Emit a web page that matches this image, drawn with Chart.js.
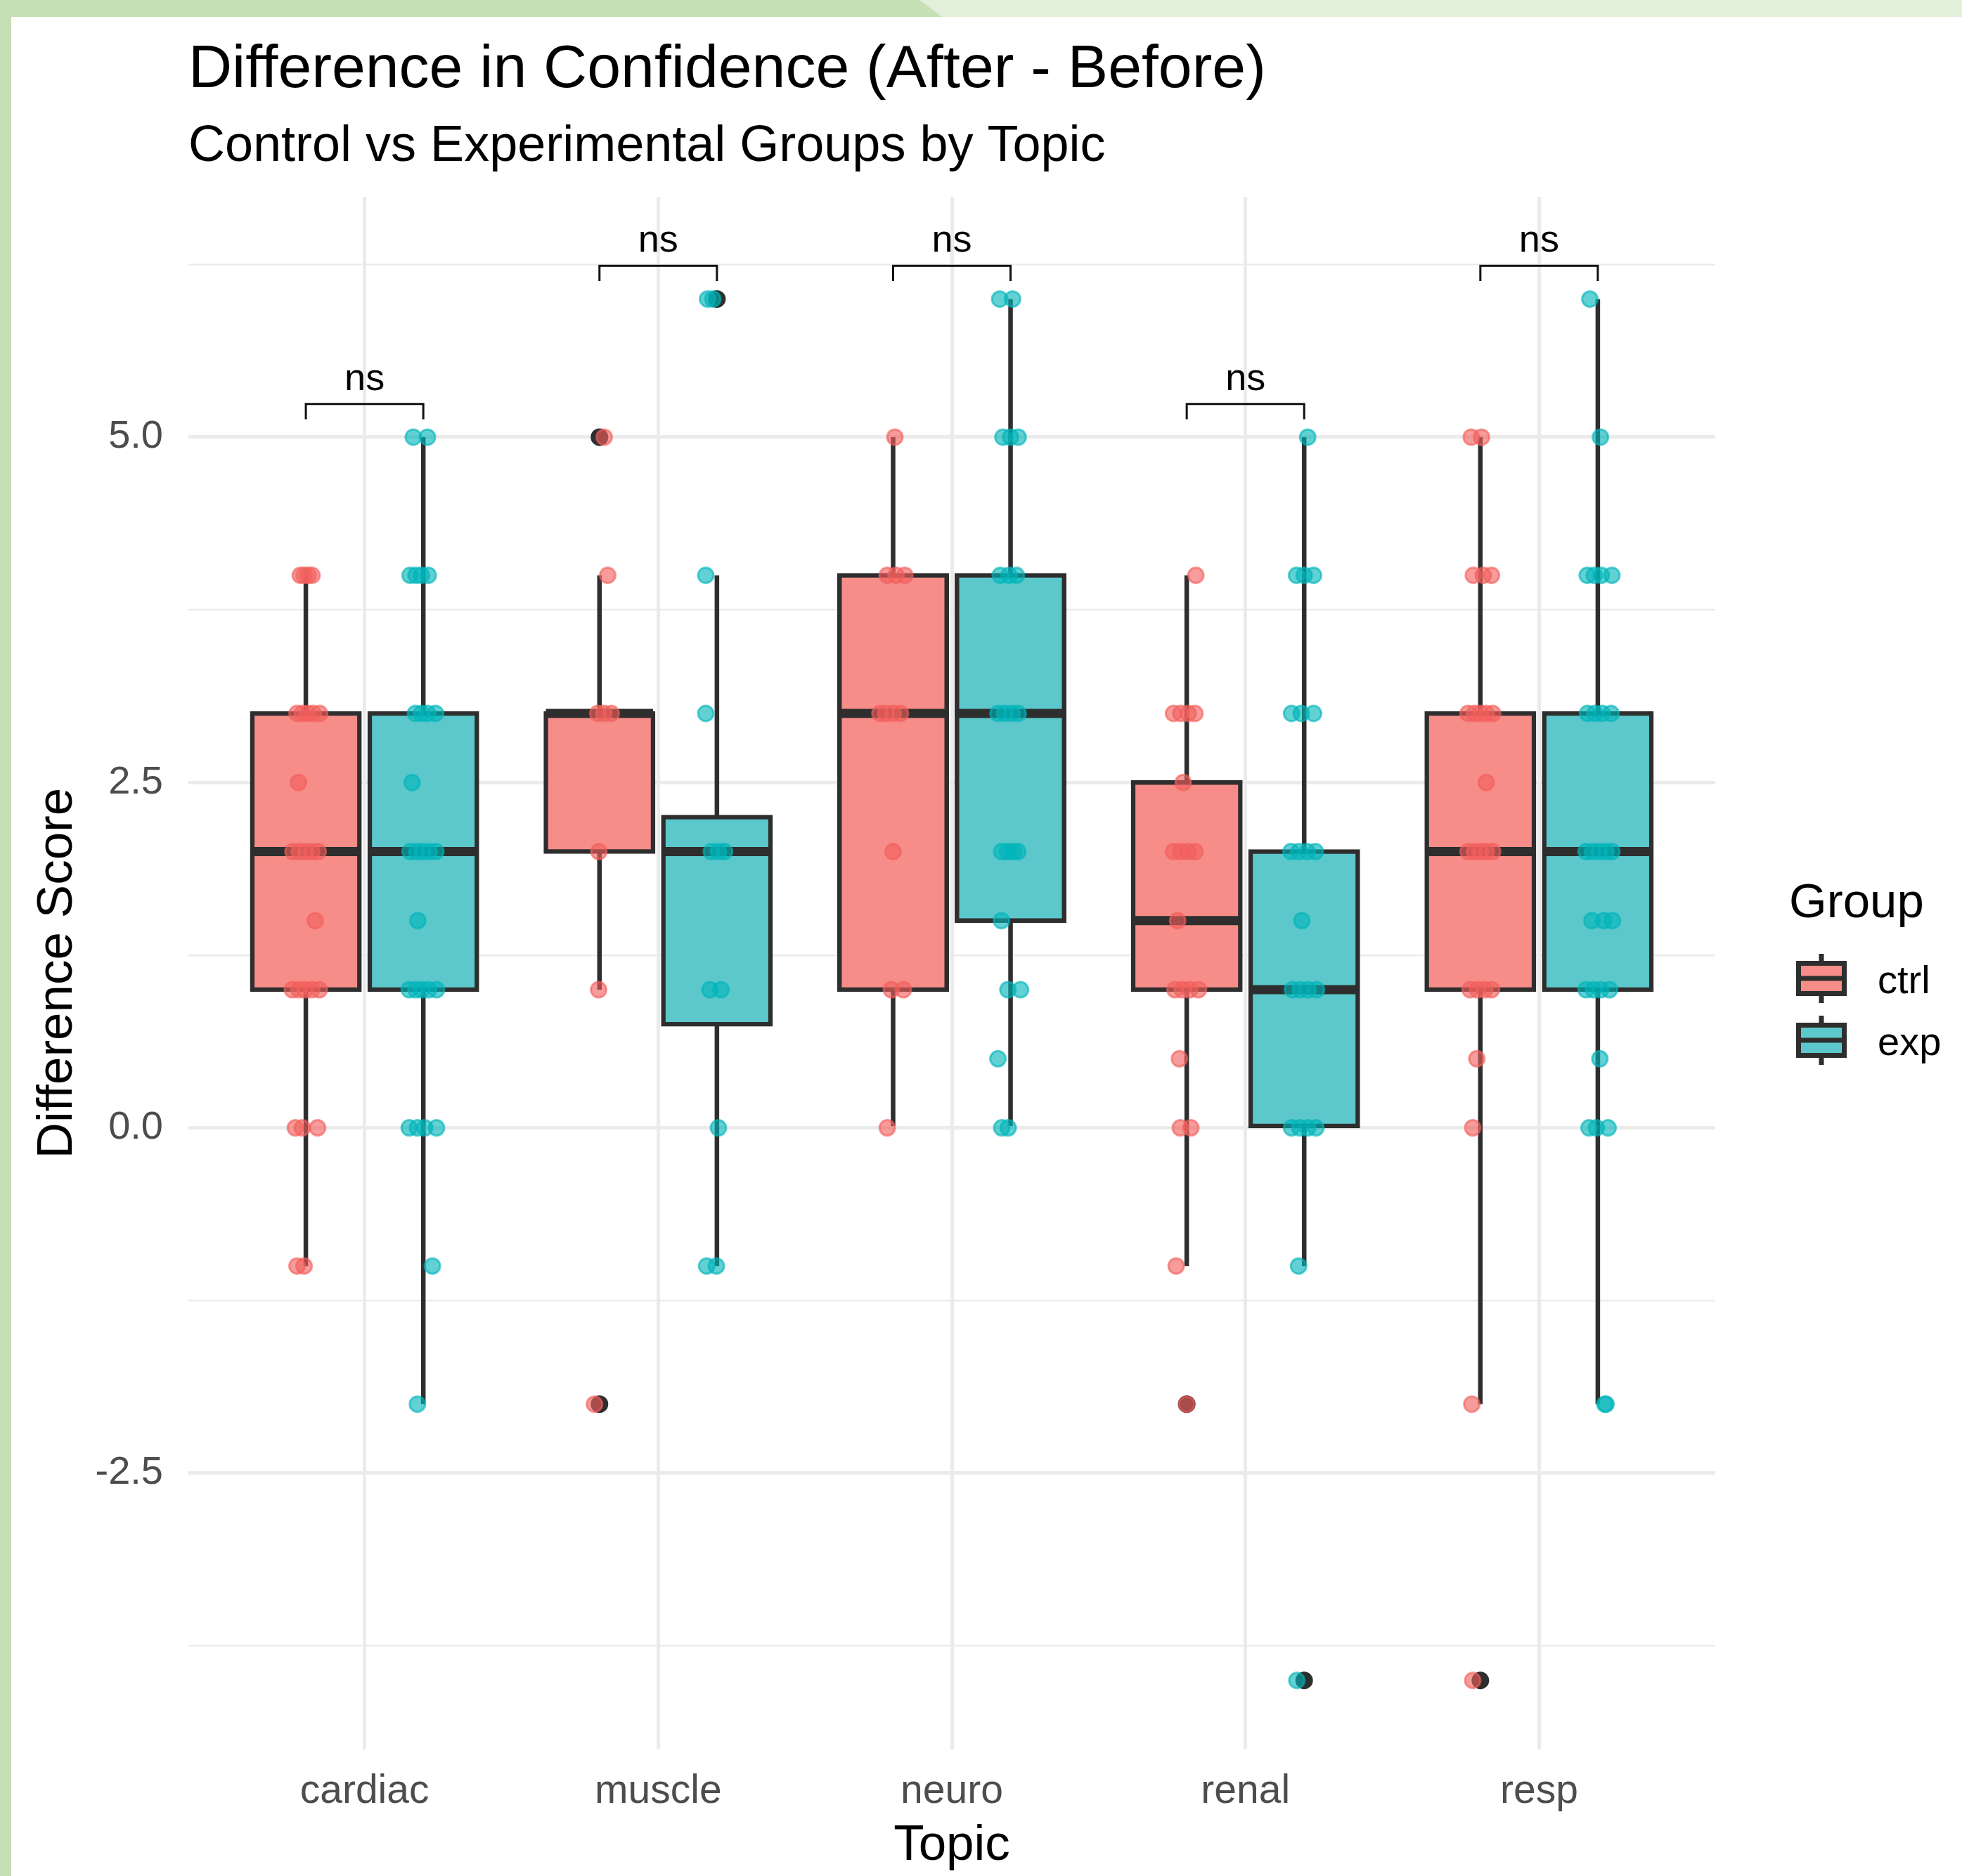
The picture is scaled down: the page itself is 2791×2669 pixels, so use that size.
<!DOCTYPE html>
<html>
<head>
<meta charset="utf-8">
<title>Difference in Confidence</title>
<script src="https://cdn.jsdelivr.net/npm/chart.js@4.4.1/dist/chart.umd.min.js"></script>
<style>
  html, body { margin: 0; padding: 0; background: #fff; }
  #wrap { position: relative; width: 2791px; height: 2669px; overflow: hidden; background: #fff; }
  #chart { position: absolute; left: 0; top: 0; }
  .band { position: absolute; }
  #topLight { left: 0; top: 0; width: 2791px; height: 24px; background: #e2efda; }
  #topDark { left: 0; top: 0; width: 1340px; height: 24px; background: #c5e0b4; clip-path: polygon(0 0, 1308px 0, 1340px 24px, 0 24px); }
  #leftBand { left: 0; top: 0; width: 16px; height: 2669px; background: #c5e0b4; }
</style>
</head>
<body>
<div id="wrap">
  <canvas id="chart" width="2791" height="2669"></canvas>
  <div class="band" id="topLight"></div>
  <div class="band" id="topDark"></div>
  <div class="band" id="leftBand"></div>
</div>
<script>
var FONT = '"Liberation Sans", Arial, Helvetica, sans-serif';

// categories and axis ticks
var topics = ['cardiac', 'muscle', 'neuro', 'renal', 'resp'];
var groupNames = ['ctrl', 'exp'];
var yTickValues = [-3.75, -2.5, -1.25, 0, 1.25, 2.5, 3.75, 5, 6.25];
var sigLabels = ['ns', 'ns', 'ns', 'ns', 'ns'];

// boxplot stats, one value per topic
var ctrlLow    = [-1, 1, 0, -1, -2];
var ctrlQ1     = [1, 2, 1, 1, 1];
var ctrlMedian = [2, 3, 3, 1.5, 2];
var ctrlQ3     = [3, 3, 4, 2.5, 3];
var ctrlHigh   = [4, 4, 5, 4, 5];
var ctrlOutliers = [[1, 5], [1, -2], [3, -2], [4, -4]]; // [topic index, value]

var expLow    = [-2, -1, 0, -1, -2];
var expQ1     = [1, 0.75, 1.5, 0, 1];
var expMedian = [2, 2, 3, 1, 2];
var expQ3     = [3, 2.25, 4, 2, 3];
var expHigh   = [5, 4, 6, 5, 6];
var expOutliers = [[1, 6], [3, -4]];

// jittered points: [score, horizontal jitter in category units]
var cardiacCtrl = [[4,-0.019],[4,-0.006],[4,0.008],[4,0.021],
  [3,-0.03],[3,-0.012],[3,0.006],[3,0.025],[3,0.047],[2.5,-0.025],
  [2,-0.044],[2,-0.022],[2,0],[2,0.02],[2,0.042],[1.5,0.032],
  [1,-0.046],[1,-0.024],[1,-0.003],[1,0.02],[1,0.046],
  [0,-0.036],[0,-0.012],[0,0.04],[-1,-0.03],[-1,-0.006]];
var cardiacExp = [[5,-0.034],[5,0.014],
  [4,-0.045],[4,-0.025],[4,-0.006],[4,0.017],
  [3,-0.027],[3,-0.006],[3,0.015],[3,0.042],[2.5,-0.038],
  [2,-0.045],[2,-0.022],[2,-0.002],[2,0.02],[2,0.043],[1.5,-0.019],
  [1,-0.048],[1,-0.025],[1,-0.005],[1,0.018],[1,0.045],
  [0,-0.048],[0,-0.02],[0,0.005],[0,0.045],[-1,0.031],[-2,-0.02]];
var muscleCtrl = [[5,0.016],[4,0.028],[3,-0.006],[3,0.015],[3,0.04],
  [2,-0.002],[1,-0.003],[-2,-0.017]];
var muscleExp = [[6,-0.032],[6,-0.014],[4,-0.038],[3,-0.038],
  [2,-0.019],[2,0.005],[2,0.026],[1,-0.024],[1,0.014],[0,0.005],
  [-1,-0.035],[-1,-0.002]];
var neuroCtrl = [[5,0.006],[4,-0.02],[4,0.01],[4,0.04],
  [3,-0.045],[3,-0.025],[3,0],[3,0.025],[2,0],[1,-0.006],[1,0.035],[0,-0.02]];
var neuroExp = [[6,-0.037],[6,0.007],[5,-0.026],[5,0],[5,0.026],
  [4,-0.035],[4,-0.005],[4,0.02],[3,-0.043],[3,-0.02],[3,0.005],[3,0.026],
  [2,-0.03],[2,-0.01],[2,0.01],[2,0.025],[1.5,-0.031],[1,-0.009],[1,0.034],
  [0.5,-0.043],[0,-0.03],[0,-0.008]];
var renalCtrl = [[4,0.031],[3,-0.045],[3,-0.02],[3,0.005],[3,0.028],[2.5,-0.012],
  [2,-0.045],[2,-0.02],[2,0.005],[2,0.028],[1.5,-0.031],
  [1,-0.04],[1,-0.015],[1,0.01],[1,0.04],[0.5,-0.025],
  [0,-0.022],[0,0.014],[-1,-0.036],[-2,0]];
var renalExp = [[5,0.012],[4,-0.026],[4,0],[4,0.032],
  [3,-0.043],[3,-0.01],[3,0.032],[2,-0.045],[2,-0.018],[2,0.01],[2,0.038],
  [1.5,-0.008],[1,-0.04],[1,-0.013],[1,0.013],[1,0.042],
  [0,-0.043],[0,-0.015],[0,0.012],[0,0.04],[-1,-0.019],[-4,-0.025]];
var respCtrl = [[5,-0.031],[5,0.004],[4,-0.024],[4,0.01],[4,0.038],
  [3,-0.042],[3,-0.02],[3,0],[3,0.02],[3,0.042],[2.5,0.02],
  [2,-0.042],[2,-0.02],[2,0],[2,0.02],[2,0.042],
  [1,-0.035],[1,-0.01],[1,0.015],[1,0.038],[0.5,-0.012],[0,-0.026],
  [-2,-0.029],[-4,-0.026]];
var respExp = [[6,-0.027],[5,0.009],[4,-0.036],[4,-0.012],[4,0.012],[4,0.048],
  [3,-0.035],[3,-0.01],[3,0.015],[3,0.045],
  [2,-0.04],[2,-0.018],[2,0.005],[2,0.028],[2,0.048],
  [1.5,-0.02],[1.5,0.02],[1.5,0.05],[1,-0.04],[1,-0.015],[1,0.01],[1,0.04],
  [0.5,0.007],[0,-0.03],[0,-0.005],[0,0.035],[-2,0.024],[-2,0.028]];

var ctrlPoints = [cardiacCtrl, muscleCtrl, neuroCtrl, renalCtrl, respCtrl];
var expPoints = [cardiacExp, muscleExp, neuroExp, renalExp, respExp];

// styles
var ink = '#2e2e2e';
var ctrlFill = '#f68d88';
var expFill = '#5dc8cb';
var ctrlDot = 'rgba(242,96,92,0.62)';
var expDot = 'rgba(0,180,185,0.62)';
var DODGE = 0.2; // half of the dodge width, in category units

// bracket height for each topic: just above the highest value
var bracketTop = topics.map(function (t, i) {
    var vals = ctrlPoints[i].concat(expPoints[i]).map(function (p) { return p[0]; });
    vals.push(ctrlHigh[i], expHigh[i]);
    return Math.max.apply(null, vals) + 0.24;
});

function groupDatasets(name, off, fill, dot, low, q1, med, q3, high, outliers, points) {
    var common = { stack: name, categoryPercentage: 0.8 };
    return [
        Object.assign({
            type: 'bar', label: name + ' whisker', order: 6,
            data: topics.map(function (t, i) { return { x: i, y: [low[i], high[i]] }; }),
            backgroundColor: ink, maxBarThickness: 6.5, barPercentage: 0.913
        }, common),
        Object.assign({
            type: 'bar', label: name, order: 5,
            data: topics.map(function (t, i) { return { x: i, y: [q1[i], q3[i]] }; }),
            backgroundColor: fill, borderColor: ink, borderWidth: 6.5,
            borderSkipped: false, inflateAmount: 3.25, barPercentage: 0.913
        }, common),
        Object.assign({
            type: 'bar', label: name + ' median', order: 4,
            data: topics.map(function (t, i) { return { x: i, y: [med[i], med[i]] }; }),
            backgroundColor: ink, borderWidth: 0, inflateAmount: 6.5, barPercentage: 0.835
        }, common),
        {
            type: 'scatter', label: name + ' outliers', order: 3,
            data: outliers.map(function (o) { return { x: o[0] + off, y: o[1] }; }),
            pointRadius: 11, pointBackgroundColor: ink, pointBorderColor: ink, pointBorderWidth: 3
        },
        {
            type: 'scatter', label: name + ' points', order: 2,
            data: [].concat.apply([], points.map(function (list, i) {
                return list.map(function (p) { return { x: i + off + p[1], y: p[0] }; });
            })),
            pointRadius: 11, pointBackgroundColor: dot, pointBorderColor: dot, pointBorderWidth: 3
        }
    ];
}

var bracketData = [];
topics.forEach(function (t, i) {
    var top = bracketTop[i], tip = top - 0.11;
    bracketData.push({ x: i - DODGE, y: tip }, { x: i - DODGE, y: top },
                     { x: i + DODGE, y: top }, { x: i + DODGE, y: tip }, { x: i, y: null });
});

var datasets = []
    .concat(groupDatasets('ctrl', -DODGE, ctrlFill, ctrlDot, ctrlLow, ctrlQ1, ctrlMedian, ctrlQ3, ctrlHigh, ctrlOutliers, ctrlPoints))
    .concat(groupDatasets('exp', DODGE, expFill, expDot, expLow, expQ1, expMedian, expQ3, expHigh, expOutliers, expPoints));
datasets.push({
    type: 'line', label: 'brackets', order: 1, data: bracketData,
    borderColor: '#111', borderWidth: 3, pointRadius: 0, spanGaps: false, tension: 0, fill: false
});

function isMajor(v) {
    return Math.abs(v / 2.5 - Math.round(v / 2.5)) < 1e-9;
}

// "ns" labels over the brackets
var sigPlugin = {
    id: 'sigLabels',
    afterDatasetsDraw: function (chart) {
        var ctx = chart.ctx, x = chart.scales.x, y = chart.scales.y;
        ctx.save();
        ctx.font = '54px ' + FONT;
        ctx.fillStyle = '#000';
        ctx.textAlign = 'center';
        ctx.textBaseline = 'alphabetic';
        topics.forEach(function (t, i) {
            ctx.fillText(sigLabels[i], x.getPixelForValue(i), y.getPixelForValue(bracketTop[i]) - 20);
        });
        ctx.restore();
    }
};

// legend with little boxplot keys, like ggplot
var legendPlugin = {
    id: 'boxLegend',
    afterDraw: function (chart) {
        var ctx = chart.ctx, area = chart.chartArea;
        var left = area.right + 108;
        var mid = (area.top + area.bottom) / 2;
        ctx.save();
        ctx.fillStyle = '#000';
        ctx.textAlign = 'left';
        ctx.textBaseline = 'alphabetic';
        ctx.font = '69px ' + FONT;
        ctx.fillText('Group', left - 3, mid - 79.5);

        var fills = [ctrlFill, expFill];
        groupNames.forEach(function (g, k) {
            var cx = left + 43, cy = mid + 7.5 + k * 88;
            ctx.fillStyle = fills[k];
            ctx.fillRect(cx - 36, cy - 25, 72, 50);
            ctx.strokeStyle = ink;
            ctx.lineWidth = 7;
            ctx.strokeRect(cx - 32.5, cy - 21.5, 65, 43);
            ctx.beginPath();
            ctx.moveTo(cx - 32.5, cy); ctx.lineTo(cx + 32.5, cy);
            ctx.moveTo(cx, cy - 35); ctx.lineTo(cx, cy - 21.5);
            ctx.moveTo(cx, cy + 21.5); ctx.lineTo(cx, cy + 35);
            ctx.stroke();
            ctx.fillStyle = '#000';
            ctx.font = '56px ' + FONT;
            ctx.fillText(g, left + 123, cy + 21);
        });
        ctx.restore();
    }
};

new Chart(document.getElementById('chart'), {
    type: 'bar',
    data: { datasets: datasets },
    plugins: [sigPlugin, legendPlugin],
    options: {
        responsive: false,
        devicePixelRatio: 1,
        animation: false,
        layout: { padding: { left: 0, right: 351, top: 0, bottom: 0 } },
        plugins: {
            legend: { display: false },
            tooltip: { enabled: false },
            title: {
                display: true, align: 'start', fullSize: false,
                text: 'Difference in Confidence (After - Before)',
                color: '#000', font: { family: FONT, size: 86, weight: 'normal' },
                padding: { top: 48.6, bottom: 0 }
            },
            subtitle: {
                display: true, align: 'start', fullSize: false,
                text: 'Control vs Experimental Groups by Topic',
                color: '#000', font: { family: FONT, size: 72, weight: 'normal' },
                padding: { top: 14, bottom: 27.8 }
            }
        },
        scales: {
            x: {
                type: 'linear', min: -0.6, max: 4.6, offset: false, bounds: 'data',
                grid: { color: '#ebebeb', lineWidth: 5, drawTicks: false, offset: false },
                border: { display: false },
                afterBuildTicks: function (scale) {
                    scale.ticks = topics.map(function (t, i) { return { value: i }; });
                },
                afterFit: function (scale) { scale.height = 180; },
                ticks: {
                    autoSkip: false, maxRotation: 0, padding: 26, color: '#4d4d4d',
                    font: { family: FONT, size: 57 },
                    callback: function (v) { return topics[v] !== undefined ? topics[v] : ''; }
                },
                title: {
                    display: true, text: 'Topic', color: '#000',
                    font: { family: FONT, size: 71 }, padding: { top: 0, bottom: 0 }
                }
            },
            y: {
                type: 'linear', min: -4.5, max: 6.74, stacked: false, bounds: 'data',
                grid: {
                    color: '#ebebeb', drawTicks: false,
                    lineWidth: function (c) { return c.tick && isMajor(c.tick.value) ? 5 : 2.5; }
                },
                border: { display: false },
                afterBuildTicks: function (scale) {
                    scale.ticks = yTickValues.map(function (v) { return { value: v }; });
                },
                afterFit: function (scale) { scale.width = 268; },
                ticks: {
                    padding: 36, color: '#4d4d4d', font: { family: FONT, size: 56 },
                    callback: function (v) { return isMajor(v) ? v.toFixed(1) : ''; }
                },
                title: {
                    display: true, text: 'Difference Score', color: '#000',
                    font: { family: FONT, size: 71 }, padding: { top: 40, bottom: 0 }
                }
            }
        }
    }
});
</script>
</body>
</html>
